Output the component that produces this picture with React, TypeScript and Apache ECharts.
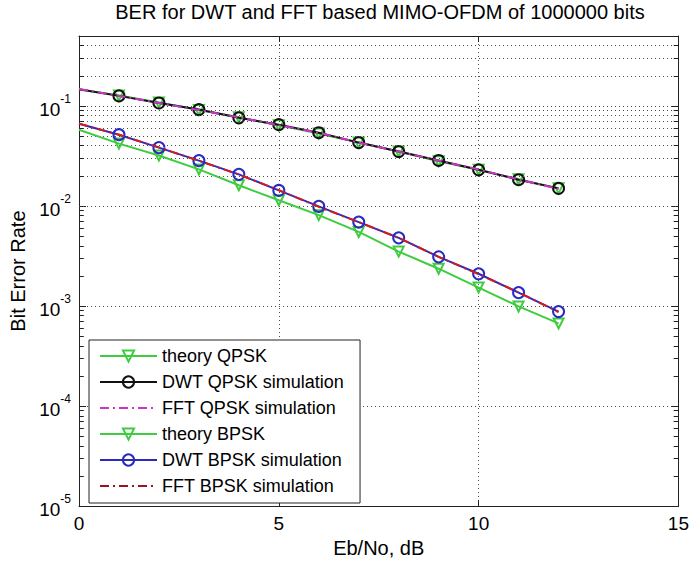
import React, { useEffect, useRef } from "react";
import * as echarts from "echarts";

const EBNO = [0, 1, 2, 3, 4, 5, 6, 7, 8, 9, 10, 11, 12];
const THEORY_QPSK = [0.146, 0.127, 0.108, 0.091, 0.077, 0.064, 0.053, 0.043, 0.035, 0.028, 0.023, 0.0185, 0.015];
const DWT_QPSK = [0.147, 0.126, 0.107, 0.092, 0.076, 0.065, 0.054, 0.043, 0.035, 0.0285, 0.023, 0.0183, 0.015];
const FFT_QPSK = [0.148, 0.126, 0.107, 0.091, 0.077, 0.064, 0.054, 0.043, 0.035, 0.0284, 0.0232, 0.0184, 0.0148];
const THEORY_BPSK = [0.0578, 0.042, 0.0319, 0.0232, 0.0161, 0.0114, 0.0081, 0.0055, 0.0035, 0.00236, 0.00153, 0.00099, 0.00067];
const DWT_BPSK = [0.0663, 0.0516, 0.0383, 0.0284, 0.0207, 0.0143, 0.0099, 0.0069, 0.0048, 0.0031, 0.0021, 0.00136, 0.00088];
const FFT_BPSK = [0.0665, 0.0515, 0.0385, 0.0283, 0.0206, 0.0144, 0.0098, 0.0069, 0.0048, 0.0031, 0.00208, 0.00137, 0.00087];

const NAMES = [
  "theory QPSK",
  "DWT QPSK simulation",
  "FFT QPSK simulation",
  "theory BPSK",
  "DWT BPSK simulation",
  "FFT BPSK simulation",
];

// minor log grid positions: mantissa x 10^decade
const MINOR_MANTISSAS = [2, 3, 4, 5, 6, 7, 8, 9];
const DECADES = [-5, -4, -3, -2, -1];
const Y_MIN = 1e-5;
const Y_MAX = 0.5;
const X_MIN = 0;
const X_MAX = 15;
const MINOR_TICK_LEN = 0.12; // in x data units (~5px)

const FONT = "'Liberation Sans', Arial, Helvetica, sans-serif";
const GREEN = "#3fcc3f";
const BLACK = "#111111";
const MAGENTA = "#cc33cc";
const BLUE = "#2a2ac0";
const RED = "#d41c1c";
const RED_DARK = "#a01020";
const GRID_DOT = "#4a4a4a";

// markers are not drawn at the first point (Eb/No = 0)
const pairs = (ys: number[], markFirst: boolean) =>
  EBNO.map((x, i) => (i === 0 && !markFirst ? { value: [x, ys[i]], symbol: "none" } : [x, ys[i]]));

export default function App() {
  const ref = useRef<HTMLDivElement>(null);
  useEffect(() => {
    if (!ref.current) return;
    const chart = echarts.init(ref.current, null, { renderer: "svg" });

    const minorVals: number[] = [];
    DECADES.forEach((d) => {
      MINOR_MANTISSAS.forEach((m) => {
        const v = m * Math.pow(10, d);
        if (v < Y_MAX - 1e-12) minorVals.push(v);
      });
    });
    const minorLines = minorVals.map((v) => ({ yAxis: v }));
    const minorTicks: any[] = [];
    minorVals.forEach((v) => {
      minorTicks.push([{ coord: [X_MIN, v] }, { coord: [X_MIN + MINOR_TICK_LEN, v] }]);
      minorTicks.push([{ coord: [X_MAX - MINOR_TICK_LEN, v] }, { coord: [X_MAX, v] }]);
    });

    const dotted = { type: [1, 3] as any, color: GRID_DOT, width: 1 };

    const hollow = (c: string) => ({ color: "rgba(255,255,255,0)", borderColor: c, borderWidth: 2 });

    const option: any = {
      animation: false,
      backgroundColor: "#ffffff",
      title: {
        text: "BER for DWT and FFT based MIMO-OFDM of 1000000 bits",
        left: 380,
        top: 2,
        padding: 0,
        textAlign: "center",
        textStyle: { fontFamily: FONT, fontSize: 20, fontWeight: "normal", color: "#000" },
      },
      grid: { left: 79, right: 9, top: 36, bottom: 55, containLabel: false },
      legend: {
        orient: "vertical",
        left: 89,
        top: 340,
        backgroundColor: "#ffffff",
        borderColor: "#222",
        borderWidth: 1,
        borderRadius: 0,
        padding: [7, 16, 8, 10],
        itemWidth: 57,
        itemHeight: 14,
        itemGap: 8,
        textStyle: { fontFamily: FONT, fontSize: 18, color: "#000" },
        data: NAMES,
      },
      xAxis: [
        {
          type: "value",
          min: X_MIN,
          max: X_MAX,
          interval: 5,
          position: "bottom",
          name: "Eb/No, dB",
          nameLocation: "middle",
          nameGap: 27,
          nameTextStyle: { fontFamily: FONT, fontSize: 20, color: "#000" },
          axisLine: { show: true, onZero: false, lineStyle: { color: "#222", width: 1 } },
          axisTick: { show: true, inside: true, length: 6, lineStyle: { color: "#222" } },
          axisLabel: { fontFamily: FONT, fontSize: 19, color: "#000", margin: 8 },
          splitLine: { show: true, lineStyle: dotted },
        },
        {
          type: "value",
          min: X_MIN,
          max: X_MAX,
          interval: 5,
          position: "top",
          axisLine: { show: true, onZero: false, lineStyle: { color: "#222", width: 1 } },
          axisTick: { show: true, inside: true, length: 6, lineStyle: { color: "#222" } },
          axisLabel: { show: false },
          splitLine: { show: false },
        },
      ],
      yAxis: [
        {
          type: "log",
          logBase: 10,
          min: Y_MIN,
          max: Y_MAX,
          position: "left",
          name: "Bit Error Rate",
          nameLocation: "middle",
          nameGap: 46,
          nameTextStyle: { fontFamily: FONT, fontSize: 20, color: "#000" },
          axisLine: { show: true, onZero: false, lineStyle: { color: "#222", width: 1 } },
          axisTick: { show: true, inside: true, length: 7, lineStyle: { color: "#222" } },
          axisLabel: {
            color: "#000",
            margin: 8,
            formatter: (v: number) => {
              const e = Math.log10(v);
              const r = Math.round(e);
              if (Math.abs(e - r) > 1e-6) return "";
              return "{b|10}{s|" + r + "}";
            },
            rich: {
              b: { fontFamily: FONT, fontSize: 19, color: "#000", lineHeight: 26, verticalAlign: "bottom" },
              s: { fontFamily: FONT, fontSize: 12, color: "#000", lineHeight: 12, verticalAlign: "top" },
            },
          },
          splitLine: { show: true, lineStyle: dotted },
        },
        {
          type: "log",
          logBase: 10,
          min: Y_MIN,
          max: Y_MAX,
          position: "right",
          axisLine: { show: true, onZero: false, lineStyle: { color: "#222", width: 1 } },
          axisTick: { show: true, inside: true, length: 7, lineStyle: { color: "#222" } },
          axisLabel: { show: false },
          splitLine: { show: false },
        },
      ],
      series: [
        {
          name: NAMES[0],
          type: "line",
          data: pairs(THEORY_QPSK, false),
          symbol: "triangle",
          symbolRotate: 180,
          symbolSize: 10,
          showAllSymbol: true,
          lineStyle: { color: GREEN, width: 2 },
          itemStyle: hollow(GREEN),
          z: 2,
          markLine: {
            silent: true,
            symbol: ["none", "none"],
            label: { show: false },
            lineStyle: dotted,
            data: minorLines,
          },
        },
        {
          name: NAMES[1],
          type: "line",
          data: pairs(DWT_QPSK, false),
          symbol: "circle",
          symbolSize: 11,
          showAllSymbol: true,
          lineStyle: { color: BLACK, width: 2 },
          itemStyle: hollow(BLACK),
          z: 3,
          markLine: {
            silent: true,
            symbol: ["none", "none"],
            label: { show: false },
            lineStyle: { color: "#222", width: 1, type: "solid" },
            data: minorTicks,
          },
        },
        {
          name: NAMES[2],
          type: "line",
          data: pairs(FFT_QPSK, true),
          symbol: "none",
          lineStyle: { color: MAGENTA, width: 2, type: [9, 4, 2, 4] },
          itemStyle: { color: "rgba(0,0,0,0)", borderWidth: 0 },
          z: 4,
        },
        {
          name: NAMES[3],
          type: "line",
          data: pairs(THEORY_BPSK, false),
          symbol: "triangle",
          symbolRotate: 180,
          symbolSize: 10,
          showAllSymbol: true,
          lineStyle: { color: GREEN, width: 2 },
          itemStyle: hollow(GREEN),
          z: 5,
        },
        {
          name: NAMES[4],
          type: "line",
          data: pairs(DWT_BPSK, false),
          symbol: "circle",
          symbolSize: 11,
          showAllSymbol: true,
          lineStyle: { color: BLUE, width: 2 },
          itemStyle: hollow(BLUE),
          z: 6,
        },
        {
          name: NAMES[5],
          type: "line",
          data: pairs(FFT_BPSK, true),
          symbol: "none",
          lineStyle: { color: RED, width: 2, type: [9, 4, 2, 4] },
          itemStyle: { color: "rgba(0,0,0,0)", borderWidth: 0 },
          z: 7,
        },
      ],
    };

    chart.setOption(option);
    // legend sample for FFT BPSK is drawn darker in the reference
    chart.setOption({
      legend: {
        data: NAMES.map((n) =>
          n === NAMES[5] ? { name: n, itemStyle: { color: "rgba(0,0,0,0)" }, lineStyle: { color: RED_DARK } } : n
        ),
      },
    });
    return () => chart.dispose();
  }, []);

  return (
    <div
      ref={ref}
      style={{ position: "fixed", left: 0, top: 0, width: 692, height: 563, background: "#fff" }}
    />
  );
}
